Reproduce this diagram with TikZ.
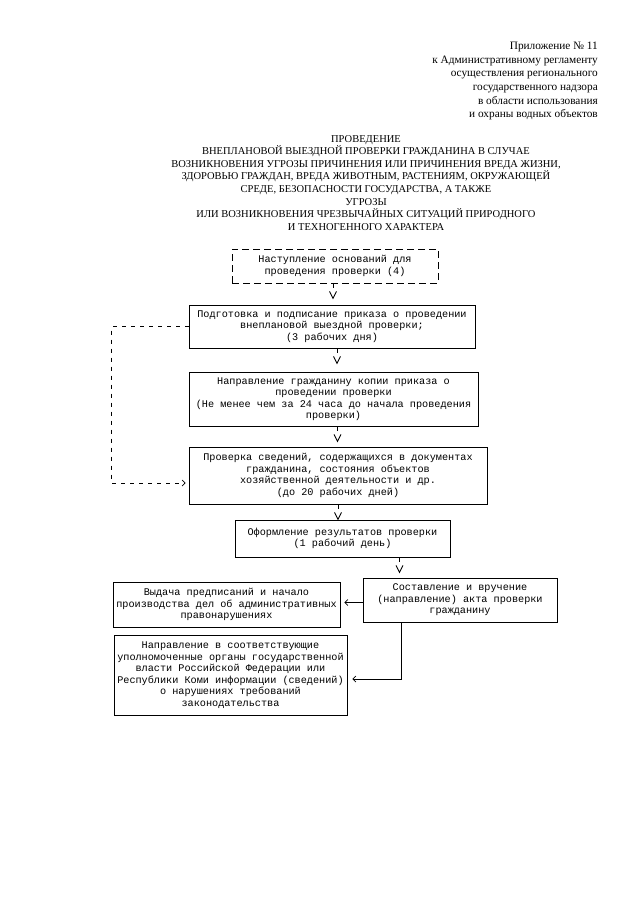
\documentclass[tikz,border=0pt]{standalone}
\usepackage{fontspec}
\setmainfont{Liberation Serif}
\setmonofont{Liberation Mono}
\usetikzlibrary{arrows.meta,calc}
\begin{document}
\begin{tikzpicture}[x=1pt,y=-1pt,
  conn/.style={line width=0.85pt},
  tip/.style={-{Straight Barb[length=3pt,width=6pt,line width=0.7pt]}},
  box/.style={draw, line width=0.85pt, inner sep=0pt, align=center,
    font=\ttfamily\fontsize{10.2}{11.5}\selectfont},
  dbox/.style={box, dash pattern=on 7pt off 4pt},
  loop/.style={conn, dash pattern=on 4pt off 5pt}]
\useasboundingbox[fill=white] (0,0) rectangle (640,905);

% header
\node[anchor=north east, inner sep=0pt, align=right,
  font=\fontsize{11.3}{13.6}\selectfont] (hdr) at (598,42)
  {Приложение № 11\\к Административному регламенту\\осуществления регионального\\государственного надзора\\в области использования\\и охраны водных объектов};

% title
\node[anchor=north, inner sep=0pt, align=center,
  font=\fontsize{10.5}{12.6}\selectfont] (ttl) at (366,135)
  {ПРОВЕДЕНИЕ\\ВНЕПЛАНОВОЙ ВЫЕЗДНОЙ ПРОВЕРКИ ГРАЖДАНИНА В СЛУЧАЕ\\ВОЗНИКНОВЕНИЯ УГРОЗЫ ПРИЧИНЕНИЯ ИЛИ ПРИЧИНЕНИЯ ВРЕДА ЖИЗНИ,\\ЗДОРОВЬЮ ГРАЖДАН, ВРЕДА ЖИВОТНЫМ, РАСТЕНИЯМ, ОКРУЖАЮЩЕЙ\\СРЕДЕ, БЕЗОПАСНОСТИ ГОСУДАРСТВА, А ТАКЖЕ\\УГРОЗЫ\\ИЛИ ВОЗНИКНОВЕНИЯ ЧРЕЗВЫЧАЙНЫХ СИТУАЦИЙ ПРИРОДНОГО\\И ТЕХНОГЕННОГО ХАРАКТЕРА};

% boxes
\node[dbox, minimum width=206pt, minimum height=34pt] (b1) at (335,266)
  {Наступление оснований для\\проведения проверки (4)};
\node[box, minimum width=286pt, minimum height=43pt] (b2) at (332,326.5)
  {Подготовка и подписание приказа о проведении\\внеплановой выездной проверки;\\(3 рабочих дня)};
\node[box, minimum width=289pt, minimum height=54pt] (b3) at (333.5,399)
  {Направление гражданину копии приказа о\\проведении проверки\\(Не менее чем за 24 часа до начала проведения\\проверки)};
\node[box, minimum width=298pt, minimum height=57pt] (b4) at (338,475.5)
  {Проверка сведений, содержащихся в документах\\гражданина, состояния объектов\\хозяйственной деятельности и др.\\(до 20 рабочих дней)};
\node[box, minimum width=215pt, minimum height=37pt] (b5) at (342.5,538.5)
  {Оформление результатов проверки\\(1 рабочий день)};
\node[box, minimum width=194pt, minimum height=44pt] (b6) at (460,600)
  {Составление и вручение\\(направление) акта проверки\\гражданину};
\node[box, minimum width=227pt, minimum height=45pt] (b7) at (226.5,604.5)
  {Выдача предписаний и начало\\производства дел об административных\\правонарушениях};
\node[box, minimum width=233pt, minimum height=80pt] (b8) at (230.5,675)
  {Направление в соответствующие\\уполномоченные органы государственной\\власти Российской Федерации или\\Республики Коми информации (сведений)\\о нарушениях требований\\законодательства};

% vertical "\/" arrows
\newcommand{\vdown}[2]{%
  \draw[conn] ([xshift=#2pt]#1.south) -- ++(0,5);
  \draw[conn] ([xshift=#2pt]#1.south) ++(-3.5,8) -- ++(3.5,7) -- ++(3.5,-7);}
\vdown{b1}{-2}
\vdown{b2}{5}
\vdown{b3}{4}
\vdown{b4}{0}
\vdown{b5}{57}

% horizontal arrow b6 -> b7
\draw[conn,tip] ([yshift=-2.5pt]b6.west) -- ([xshift=4pt,yshift=-2.5pt]b6.west -| b7.east);

% loop from b2 to b4
\draw[loop,tip] (b2.west) -- ++(-77,0) |- ([xshift=-3pt,yshift=-7.5pt]b4.west);

% b6 -> b8
\draw[conn,tip] ([xshift=-59pt]b6.south) |- ([xshift=5pt,yshift=-4pt]b8.east);
\end{tikzpicture}
\end{document}
